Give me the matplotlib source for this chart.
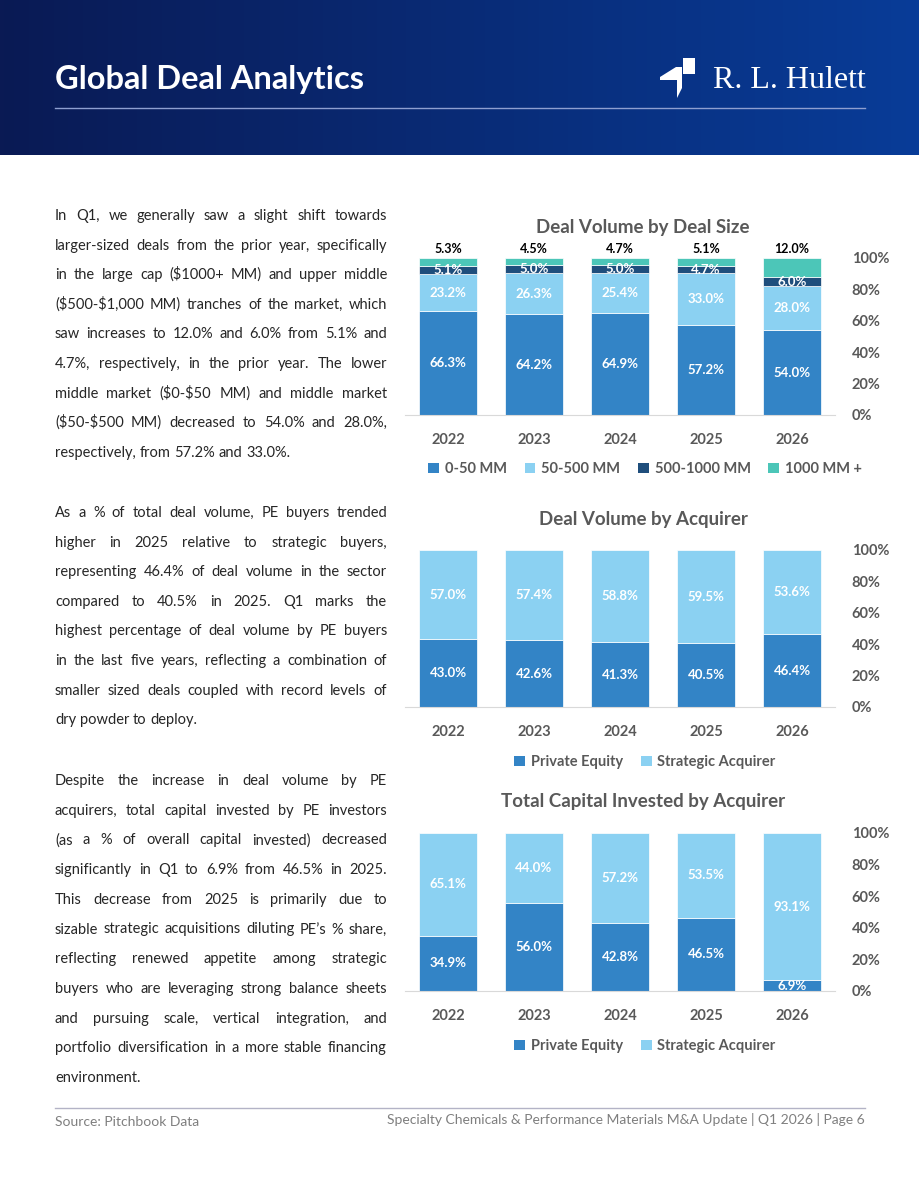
import numpy as np
import matplotlib
matplotlib.use("Agg")
import matplotlib.pyplot as plt
from matplotlib.patches import Polygon, Patch
from matplotlib.lines import Line2D

plt.rcParams['font.family'] = ['Lato', 'DejaVu Sans']

# ---- data ----
years = ['2022', '2023', '2024', '2025', '2026']
size_0_50 = [66.3, 64.2, 64.9, 57.2, 54.0]
size_50_500 = [23.2, 26.3, 25.4, 33.0, 28.0]
size_500_1000 = [5.1, 5.0, 5.0, 4.7, 6.0]
size_1000_plus = [5.3, 4.5, 4.7, 5.1, 12.0]
size_names = ['0-50 MM', '50-500 MM', '500-1000 MM', '1000 MM +']

vol_pe = [43.0, 42.6, 41.3, 40.5, 46.4]
vol_strategic = [57.0, 57.4, 58.8, 59.5, 53.6]
cap_pe = [34.9, 56.0, 42.8, 46.5, 6.9]
cap_strategic = [65.1, 44.0, 57.2, 53.5, 93.1]
acq_names = ['Private Equity', 'Strategic Acquirer']

para1 = ["In Q1, we generally saw a slight shift towards",
         "larger-sized deals from the prior year, specifically",
         "in the large cap ($1000+ MM) and upper middle",
         "($500-$1,000 MM) tranches of the market, which",
         "saw increases to 12.0% and 6.0% from 5.1% and",
         "4.7%, respectively, in the prior year. The lower",
         "middle market ($0-$50 MM) and middle market",
         "($50-$500 MM) decreased to 54.0% and 28.0%,",
         "respectively, from 57.2% and 33.0%."]
para2 = ["As a % of total deal volume, PE buyers trended",
         "higher in 2025 relative to strategic buyers,",
         "representing 46.4% of deal volume in the sector",
         "compared to 40.5% in 2025. Q1 marks the",
         "highest percentage of deal volume by PE buyers",
         "in the last five years, reflecting a combination of",
         "smaller sized deals coupled with record levels of",
         "dry powder to deploy."]
para3 = ["Despite the increase in deal volume by PE",
         "acquirers, total capital invested by PE investors",
         "(as a % of overall capital invested) decreased",
         "significantly in Q1 to 6.9% from 46.5% in 2025.",
         "This decrease from 2025 is primarily due to",
         "sizable strategic acquisitions diluting PE\u2019s % share,",
         "reflecting renewed appetite among strategic",
         "buyers who are leveraging strong balance sheets",
         "and pursuing scale, vertical integration, and",
         "portfolio diversification in a more stable financing",
         "environment."]

# ---- style ----
C_DARK_BLUE = '#3384c6'
C_LIGHT_BLUE = '#8bd1f2'
C_NAVY = '#1f4e7c'
C_TEAL = '#4cc6b8'
GRAY = '#595959'

W, H = 920, 1191
fig = plt.figure(figsize=(W / 100, H / 100), dpi=100)
fig.patch.set_facecolor('white')


def fx(x):
    return x / W


def fy(y):
    return 1 - y / H


# header band with gradient
ax_bg = fig.add_axes([0, fy(155), 1, 155 / H])
grad_x = np.linspace(0, 1, 256)
left = np.array([10, 26, 84]) / 255
right = np.array([8, 60, 152]) / 255
img = left[None, :] * (1 - grad_x[:, None]) + right[None, :] * grad_x[:, None]
img = np.repeat(img[None, :, :], 2, axis=0)
ax_bg.imshow(img, aspect='auto', extent=[0, 1, 0, 1])
ax_bg.axis('off')

fig.text(fx(55), fy(79), 'Global Deal Analytics', color='white', fontsize=23.5,
         fontweight='bold', va='center', ha='left')
fig.add_artist(Line2D([fx(55), fx(865)], [fy(108), fy(108)], color='#8e9fd0', lw=1))
fig.text(fx(866), fy(80), 'R. L. Hulett', color='white', fontsize=23,
         family='Liberation Serif', va='center', ha='right')
# logo mark
fig.add_artist(Polygon([(fx(683), fy(58)), (fx(695), fy(58)), (fx(695), fy(74)), (fx(683), fy(74))],
                       closed=True, fc='white', ec='none', transform=fig.transFigure))
fig.add_artist(Polygon([(fx(660), fy(77)), (fx(676), fy(67)), (fx(682), fy(67)), (fx(682), fy(88)),
                        (fx(677), fy(98)), (fx(677), fy(80)), (fx(660), fy(80))],
                       closed=True, fc='white', ec='none', transform=fig.transFigure))


# justified body text
renderer = fig.canvas.get_renderer()
BODY_FS = 10.5
probe_a = fig.text(0, 0, 'a a', fontsize=BODY_FS)
probe_b = fig.text(0, 0, 'aa', fontsize=BODY_FS)
space_w = probe_a.get_window_extent(renderer).width - probe_b.get_window_extent(renderer).width
probe_a.remove()
probe_b.remove()


def justified(lines, x0, x1, y0, step):
    for i, line in enumerate(lines):
        y = y0 + i * step + 5
        words = line.split()
        texts = [fig.text(0, 0, w, fontsize=BODY_FS, color='#262626', va='baseline',
                          ha='left', parse_math=False) for w in words]
        widths = [t.get_window_extent(renderer).width for t in texts]
        if i == len(lines) - 1 or len(words) == 1:
            gap = space_w
        else:
            gap = (x1 - x0 - sum(widths)) / (len(words) - 1)
        x = x0
        for t, w in zip(texts, widths):
            t.set_position((fx(x), fy(y)))
            x += w + gap


justified(para1, 55, 387, 215, 29.6)
justified(para2, 55, 387, 512, 29.6)
justified(para3, 55, 387, 780, 29.7)


def make_axes(y_zero, y_full):
    ax = fig.add_axes([fx(405), fy(y_zero), fx(835) - fx(405), (y_zero - y_full) / H])
    ax.set_xlim(-0.5, len(years) - 0.5)
    ax.set_ylim(0, 100)
    ax.set_yticks(range(0, 101, 20))
    ax.set_yticklabels([f'{v}%' for v in range(0, 101, 20)])
    ax.yaxis.tick_right()
    ax.tick_params(axis='y', length=0, pad=12, labelsize=10.5, labelcolor=GRAY)
    ax.tick_params(axis='x', length=0, pad=13, labelsize=10.5, labelcolor=GRAY)
    for lab in ax.get_xticklabels() + ax.get_yticklabels():
        lab.set_fontweight('bold')
    for s in ['top', 'left', 'right']:
        ax.spines[s].set_visible(False)
    ax.spines['bottom'].set_color('#d9d9d9')
    ax.patch.set_alpha(0)
    return ax


def stacked(ax, series, colors, label_colors, top_label=None):
    x = np.arange(len(years))
    bottom = np.zeros(len(years))
    conts = []
    for vals, c in zip(series, colors):
        cont = ax.bar(x, vals, 0.68, bottom=bottom, color=c, edgecolor='white', linewidth=0.5)
        conts.append(cont)
        bottom += np.array(vals)
    for i, (cont, vals) in enumerate(zip(conts, series)):
        if top_label is not None and i == len(series) - 1:
            ax.bar_label(cont, labels=[f'{v:.1f}%' for v in vals], label_type='edge', padding=2,
                         color='black', fontsize=9, fontweight='bold')
        else:
            ax.bar_label(cont, labels=[f'{v:.1f}%' for v in vals], label_type='center',
                         color=label_colors, fontsize=9.5, fontweight='bold')
    ax.set_xticks(x)
    ax.set_xticklabels(years)
    for lab in ax.get_xticklabels():
        lab.set_fontweight('bold')


def legend(names, colors, y):
    handles = [Patch(facecolor=c, edgecolor='none') for c in colors]
    fig.legend(handles, names, loc='center', bbox_to_anchor=(fx(645), fy(y)),
               bbox_transform=fig.transFigure, ncol=len(names), frameon=False,
               handlelength=0.75, handleheight=0.75, handletextpad=0.4, columnspacing=1.2,
               prop={'weight': 'bold', 'size': 10.5}, labelcolor=GRAY)


# chart 1
ax1 = make_axes(415, 258)
stacked(ax1, [size_0_50, size_50_500, size_500_1000, size_1000_plus],
        [C_DARK_BLUE, C_LIGHT_BLUE, C_NAVY, C_TEAL], 'white', top_label=True)
fig.text(fx(643), fy(227), 'Deal Volume by Deal Size', ha='center', va='center',
         fontsize=13.5, fontweight='bold', color=GRAY)
legend(size_names, [C_DARK_BLUE, C_LIGHT_BLUE, C_NAVY, C_TEAL], 469)

# chart 2
ax2 = make_axes(707, 550)
stacked(ax2, [vol_pe, vol_strategic], [C_DARK_BLUE, C_LIGHT_BLUE], 'white')
fig.text(fx(643), fy(519), 'Deal Volume by Acquirer', ha='center', va='center',
         fontsize=13.5, fontweight='bold', color=GRAY)
legend(acq_names, [C_DARK_BLUE, C_LIGHT_BLUE], 762)

# chart 3
ax3 = make_axes(991, 833)
stacked(ax3, [cap_pe, cap_strategic], [C_DARK_BLUE, C_LIGHT_BLUE], 'white')
fig.text(fx(643), fy(802), 'Total Capital Invested by Acquirer', ha='center', va='center',
         fontsize=13.5, fontweight='bold', color=GRAY)
legend(acq_names, [C_DARK_BLUE, C_LIGHT_BLUE], 1046)

# footer
fig.add_artist(Line2D([fx(55), fx(865)], [fy(1108), fy(1108)], color='#b3b3c6', lw=1))
fig.text(fx(55), fy(1122), 'Source: Pitchbook Data', fontsize=10, color='#7f7f7f', va='center')
fig.text(fx(865), fy(1120),
         'Specialty Chemicals & Performance Materials M&A Update | Q1 2026 | Page 6',
         fontsize=10, color='#7f7f7f', va='center', ha='right')

fig.savefig('out.png', dpi=100)
